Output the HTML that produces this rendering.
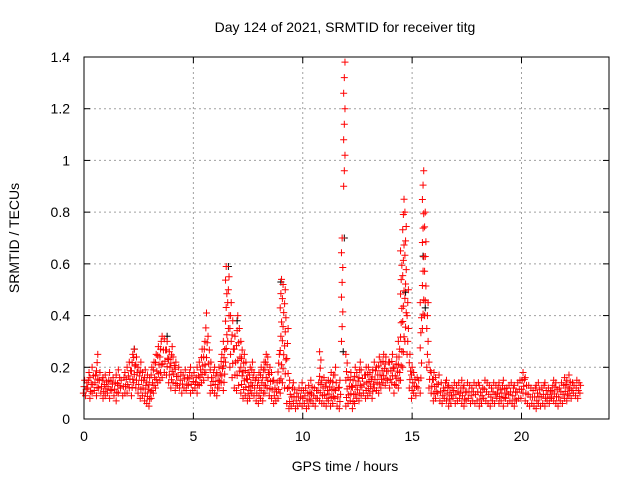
<!DOCTYPE html>
<html><head><meta charset="utf-8"><style>
body{margin:0;background:#fff;}
svg{display:block;font-family:"Liberation Sans",sans-serif;}
</style></head><body>
<svg id="chart" width="640" height="480" viewBox="0 0 640 480">
<rect width="640" height="480" fill="#fff"/>
<g id="grid"></g>
<g id="marks"></g>
<rect x="84" y="57" width="525" height="362" fill="none" stroke="#000" stroke-width="1"/>
<g id="ticks"></g>
<text x="345" y="32" font-size="14" text-anchor="middle">Day 124 of 2021, SRMTID for receiver titg</text>
<text x="345" y="471" font-size="14" text-anchor="middle">GPS time / hours</text>
<text transform="translate(19,238) rotate(-90)" font-size="14" text-anchor="middle">SRMTID / TECUs</text>
</svg>
<script>
const xTicks=[0,5,10,15,20];
const yTicks=[0,0.2,0.4,0.6,0.8,1,1.2,1.4];
const yTickLabels=["0","0.2","0.4","0.6","0.8","1","1.2","1.4"];
const tStart=0, tStep=0.1;
const lo=[.10,.09,.12,.08,.10,.11,.09,.12,.10,.08,
.09,.10,.08,.11,.09,.07,.10,.12,.09,.10,
.10,.12,.09,.14,.12,.10,.08,.09,.07,.06,
.05,.08,.10,.12,.14,.15,.16,.18,.17,.14,
.12,.14,.11,.13,.12,.10,.12,.11,.13,.10,
.11,.12,.10,.13,.14,.15,.18,.16,.10,.11,
.10,.09,.12,.14,.11,.22,.30,.20,.16,.12,
.11,.13,.10,.08,.09,.07,.08,.10,.09,.07,
.06,.08,.07,.10,.12,.09,.08,.06,.07,.08,
.10,.14,.12,.06,.04,.05,.06,.04,.05,.06,
.05,.06,.04,.05,.07,.06,.05,.08,.07,.06,
.06,.05,.07,.05,.06,.08,.05,.04,.30,.90,
.05,.06,.07,.04,.06,.08,.07,.09,.10,.08,
.09,.10,.08,.12,.11,.10,.12,.14,.13,.15,
.12,.14,.10,.13,.12,.15,.20,.30,.25,.12,
.08,.10,.09,.12,.10,.35,.40,.20,.12,.10,
.07,.08,.10,.07,.06,.08,.07,.05,.06,.08,
.06,.07,.08,.06,.05,.07,.08,.06,.07,.06,
.07,.05,.06,.08,.07,.06,.05,.07,.06,.08,
.06,.07,.05,.08,.06,.07,.06,.05,.07,.08,
.08,.10,.07,.06,.05,.06,.05,.04,.06,.05,
.06,.05,.07,.06,.08,.07,.06,.05,.07,.06,
.08,.07,.09,.08,.10,.09,.08,.10];
const hi=[.15,.14,.18,.16,.20,.17,.25,.18,.15,.16,
.17,.15,.18,.16,.14,.17,.19,.15,.16,.18,
.20,.22,.25,.27,.24,.20,.22,.18,.19,.17,
.16,.20,.22,.25,.28,.30,.32,.31,.30,.26,
.28,.24,.22,.20,.18,.17,.19,.16,.18,.20,
.18,.16,.20,.22,.27,.30,.41,.32,.22,.18,
.20,.18,.20,.25,.30,.59,.55,.45,.38,.32,
.40,.35,.30,.25,.22,.18,.20,.22,.18,.16,
.18,.20,.22,.25,.24,.20,.18,.15,.14,.25,
.54,.52,.50,.35,.15,.12,.14,.10,.12,.11,
.14,.12,.10,.13,.15,.12,.11,.14,.26,.15,
.16,.14,.15,.18,.17,.20,.12,.15,.70,1.38,
.25,.16,.18,.15,.20,.18,.22,.19,.17,.20,
.20,.18,.19,.22,.20,.24,.22,.25,.24,.22,
.22,.25,.20,.24,.30,.65,.85,.80,.50,.25,
.20,.18,.16,.15,.45,.96,.80,.45,.22,.18,
.18,.16,.17,.14,.12,.14,.15,.13,.12,.14,
.13,.14,.12,.15,.13,.14,.13,.12,.14,.13,
.14,.13,.12,.15,.14,.13,.12,.14,.13,.12,
.14,.13,.15,.12,.13,.14,.12,.13,.14,.15,
.15,.18,.16,.13,.12,.11,.12,.13,.14,.12,
.13,.14,.12,.11,.13,.15,.14,.12,.14,.13,
.16,.15,.17,.14,.13,.15,.14,.13];
const blackT=[6.6,9.0,11.9,11.85,14.7,15.5,15.6,2.3,3.8,7.0];
const blackV=[0.59,0.53,0.70,0.26,0.49,0.63,0.43,0.27,0.32,0.38];

const X0=84,X1=609,Y0=419,Y1=57,XMAX=24,YMAX=1.4;
const xs=v=>X0+(v/XMAX)*(X1-X0);
const ys=v=>Y0-(v/YMAX)*(Y0-Y1);
const NS="http://www.w3.org/2000/svg";
function mk(tag,attrs,parent){const e=document.createElementNS(NS,tag);for(const k in attrs)e.setAttribute(k,attrs[k]);parent.appendChild(e);return e;}
const grid=document.getElementById('grid'),ticks=document.getElementById('ticks'),marks=document.getElementById('marks');
xTicks.forEach(t=>{
  const x=xs(t);
  if(t>0){const g=mk('line',{x1:x,x2:x,y1:Y1,y2:Y0,stroke:'#a0a0a0','stroke-dasharray':'2,3'},grid);
  
  }
  mk('line',{x1:x,x2:x,y1:Y0,y2:Y0-6,stroke:'#000'},ticks);
  mk('line',{x1:x,x2:x,y1:Y1,y2:Y1+6,stroke:'#000'},ticks);
  const l=mk('text',{x:x,y:Y0+22,'font-size':14,'text-anchor':'middle'},ticks);
  l.textContent=t;
  
  
});
yTicks.forEach((t,i)=>{
  const y=ys(t);
  if(t>0&&t<YMAX){const g=mk('line',{x1:X0,x2:X1,y1:y,y2:y,stroke:'#a0a0a0','stroke-dasharray':'2,3'},grid);
  
  }
  mk('line',{x1:X0,x2:X0+6,y1:y,y2:y,stroke:'#000'},ticks);
  mk('line',{x1:X1,x2:X1-6,y1:y,y2:y,stroke:'#000'},ticks);
  const l=mk('text',{x:X0-14,y:y+5,'font-size':14,'text-anchor':'end'},ticks);
  l.textContent=yTickLabels[i];
  
  
});
function cross(t,v,color){
  const x=xs(t),y=ys(v);
  const p=mk('path',{d:`M${x-3.5},${y}H${x+3.5}M${x},${y-3.5}V${y+3.5}`,stroke:color,'stroke-width':1,fill:'none'},marks);
  
  
}
blackT.forEach((t,i)=>cross(t,blackV[i],'#000'));
lo.forEach((l,i)=>{
  const t=tStart+i*tStep, h=hi[i];
  const step=h>0.3?0.06:0.035;
  const n=Math.max(2,Math.ceil((h-l)/step)+1);
  for(let k=0;k<n;k++){
    const v=l+(h-l)*k/(n-1);
    cross(t+((k%3)-1)*0.03,v,'#ff0000');
  }
});
</script>
</body></html>
